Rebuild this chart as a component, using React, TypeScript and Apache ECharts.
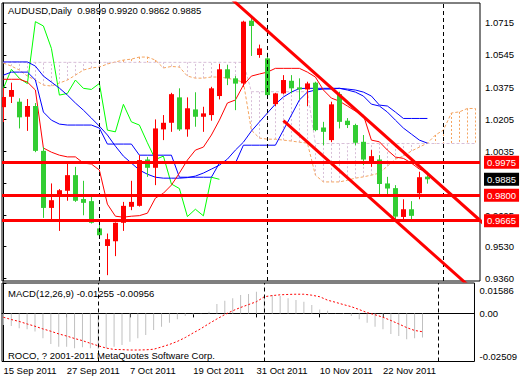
import React, { useEffect, useRef } from 'react';
import * as echarts from 'echarts';

const FONT = 'Tahoma, "Liberation Sans", Arial, sans-serif';

// OHLC, bar index 0 = 15 Sep 2011 ... 53 = 29 Nov 2011
const opens = [1.0268, 1.0323, 1.0297, 1.0217, 1.0274, 1.0036, 0.9733, 0.9795, 0.9824, 0.9907, 0.9780, 0.9769, 0.9624, 0.9531, 0.9556, 0.9654, 0.9739, 0.9744, 0.9990, 0.9946, 1.0150, 1.0185, 1.0320, 1.0150, 1.0256, 1.0217, 1.0226, 1.0327, 1.0469, 1.0421, 1.0394, 1.0727, 1.0545, 1.0527, 1.0284, 1.0341, 1.0408, 1.0373, 1.0362, 1.0398, 1.0160, 1.0093, 1.0337, 1.0196, 1.0173, 1.0084, 0.9978, 0.9990, 0.9863, 0.9838, 0.9685, 0.9726, 0.9811, 0.9899];
const highs = [1.0369, 1.0398, 1.0315, 1.0311, 1.0290, 1.0056, 0.9863, 0.9833, 0.9981, 0.9951, 0.9877, 0.9792, 0.9668, 0.9597, 0.9656, 0.9765, 0.9877, 1.0013, 1.0004, 1.0203, 1.0226, 1.0344, 1.0368, 1.0320, 1.0347, 1.0270, 1.0376, 1.0497, 1.0492, 1.0433, 1.0727, 1.0741, 1.0600, 1.0557, 1.0344, 1.0438, 1.0438, 1.0421, 1.0403, 1.0403, 1.0190, 1.0297, 1.0350, 1.0210, 1.0180, 1.0120, 1.0040, 1.0013, 0.9898, 0.9854, 0.9779, 0.9769, 0.9925, 0.9920];
const lows = [1.0189, 1.0290, 1.0155, 1.0142, 1.0029, 0.9680, 0.9668, 0.9611, 0.9771, 0.9765, 0.9694, 0.9650, 0.9571, 0.9376, 0.9477, 0.9611, 0.9721, 0.9740, 0.9898, 0.9854, 1.0093, 1.0137, 1.0142, 1.0111, 1.0164, 1.0137, 1.0196, 1.0309, 1.0385, 1.0252, 1.0376, 1.0540, 1.0530, 1.0315, 1.0274, 1.0337, 1.0341, 1.0306, 1.0274, 1.0140, 1.0066, 1.0082, 1.0155, 1.0157, 1.0066, 0.9960, 0.9951, 0.9801, 0.9801, 0.9659, 0.9664, 0.9659, 0.9779, 0.9862];
const closes = [1.0322, 1.0359, 1.0214, 1.0274, 1.0036, 0.9733, 0.9774, 0.9827, 0.9907, 0.9771, 0.9760, 0.9654, 0.9588, 0.9567, 0.9654, 0.9744, 0.9765, 0.9987, 0.9946, 1.0155, 1.0185, 1.0337, 1.0150, 1.0262, 1.0217, 1.0235, 1.0368, 1.0469, 1.0421, 1.0393, 1.0722, 1.0699, 1.0580, 1.0332, 1.0341, 1.0412, 1.0368, 1.0362, 1.0394, 1.0146, 1.0137, 1.0283, 1.0190, 1.0173, 1.0079, 0.9990, 1.0008, 0.9860, 0.9836, 0.9687, 0.9726, 0.9691, 0.9896, 0.9885];

// Ichimoku lines
const tenkan = [1.0416, 1.0416, 1.0416, 1.0401, 1.0359, 1.0051, 1.0029, 1.0013, 1.0004, 1.0004, 0.9971, 0.9966, 0.9934, 0.9753, 0.9689, 0.9684, 0.9689, 0.9692, 0.9705, 0.9785, 0.9811, 0.9854, 0.9918, 0.9987, 1.0040, 1.0056, 1.0120, 1.0199, 1.0290, 1.0306, 1.0385, 1.0433, 1.0444, 1.0454, 1.0474, 1.0474, 1.0474, 1.0474, 1.0454, 1.0428, 1.0359, 1.0316, 1.0300, 1.0274, 1.0247, 1.0226, 1.0093, 1.0084, 1.0040, 1.0003, 0.9996, 0.9971, 0.9939, 0.9923];
const kijun = [1.0438, 1.0454, 1.0454, 1.0454, 1.0412, 1.0242, 1.0199, 1.0178, 1.0173, 1.0173, 1.0173, 1.0173, 1.0157, 1.0072, 1.0072, 1.0072, 1.0072, 1.0013, 1.0013, 1.0013, 1.0013, 1.0013, 0.9896, 0.9896, 0.9896, 0.9896, 0.9896, 0.9971, 0.9971, 0.9971, 1.0066, 1.0066, 1.0066, 1.0066, 1.0066, 1.0146, 1.0226, 1.0306, 1.0348, 1.0359, 1.0364, 1.0364, 1.0368, 1.0359, 1.0348, 1.0327, 1.0284, 1.0274, 1.0242, 1.0199, 1.0157, 1.0125, 1.0093, 1.0077];
const blueLine2 = [1.0508, 1.0508, 1.0508, 1.0508, 1.0486, 1.0433, 1.0401, 1.0369, 1.0332, 1.0290, 1.0252, 1.0210, 1.0167, 1.0120, 1.0061, 1.0008, 0.9971, 0.9934, 0.9912, 0.9896, 0.9891, 0.9891, 0.9891, 0.9894, 0.9902, 0.9918, 0.9939, 0.9960, 0.9992, 1.0040, 1.0082, 1.0141, 1.0189, 1.0237, 1.0284, 1.0322, 1.0348, 1.0367, 1.0368, 1.0368, 1.0368, 1.0368, 1.0368, 1.0364, 1.0359, 1.0348, 1.0327, 1.0279, 1.0274, 1.0242, 1.0208, 1.0208, 1.0208, 1.0208];
const spanA = [1.0502, 1.0486, 1.0465, 1.0433, 1.0412, 1.0385, 1.0380, 1.0396, 1.0412, 1.0438, 1.0465, 1.0476, 1.0481, 1.0497, 1.0508, 1.0518, 1.0523, 1.0534, 1.0534, 1.0518, 1.0476, 1.0484, 1.0481, 1.0433, 1.0422, 1.0422, 1.0428, 1.0428, 1.0422, 1.0412, 1.0401, 1.0146, 1.0104, 1.0098, 1.0098, 1.0093, 1.0088, 1.0082, 1.0077, 0.9907, 0.9871, 0.9871, 0.9871, 0.9880, 0.9891, 0.9898, 0.9907, 0.9918, 0.9955, 0.9992, 1.0008, 1.0035, 1.0056, 1.0077, 1.0120, 1.0146, 1.0237, 1.0243, 1.0261, 1.0261];
const spanB = [1.0506, 1.0506, 1.0506, 1.0506, 1.0506, 1.0506, 1.0506, 1.0506, 1.0506, 1.0506, 1.0506, 1.0506, 1.0506, 1.0506, 1.0506, 1.0506, 1.0506, 1.0506, 1.0506, 1.0506, 1.0506, 1.0506, 1.0506, 1.0506, 1.0506, 1.0506, 1.0506, 1.0506, 1.0506, 1.0506, 1.0506, 1.0350, 1.0350, 1.0350, 1.0350, 1.0350, 1.0350, 1.0350, 1.0350, 1.0075, 1.0075, 1.0075, 1.0075, 1.0075, 1.0075, 1.0075, 1.0075, 1.0075, 1.0075, 1.0075, 1.0075, 1.0075, 1.0075, 1.0075, 1.0075, 1.0075, 1.0075, 1.0075, 1.0075, 1.0075];
const chikouShift = 26;

// MACD(12,26,9)
const macdMain = [-0.0061, -0.0066, -0.0078, -0.0083, -0.0095, -0.0130, -0.0160, -0.0174, -0.0174, -0.0182, -0.0177, -0.0182, -0.0187, -0.0182, -0.0174, -0.0165, -0.0148, -0.0130, -0.0113, -0.0087, -0.0069, -0.0049, -0.0031, -0.0014, -0.0007, 0.0001, 0.0009, 0.0049, 0.0066, 0.0079, 0.0096, 0.0101, 0.0113, 0.0091, 0.0096, 0.0091, 0.0079, 0.0070, 0.0061, 0.0044, 0.0021, 0.0014, 0.0001, -0.0003, -0.0014, -0.0031, -0.0049, -0.0069, -0.0083, -0.0107, -0.0118, -0.0135, -0.0130, -0.01255];
const macdSignal = [-0.0020, -0.0032, -0.0042, -0.0055, -0.0067, -0.0081, -0.0093, -0.0107, -0.0118, -0.0131, -0.0142, -0.0156, -0.0169, -0.0181, -0.0188, -0.0189, -0.0191, -0.0191, -0.0190, -0.0187, -0.0175, -0.0162, -0.0146, -0.0126, -0.0102, -0.0079, -0.0053, -0.0029, -0.0006, 0.0014, 0.0031, 0.0046, 0.0061, 0.0087, 0.0093, 0.0097, 0.0099, 0.0100, 0.0100, 0.0095, 0.0087, 0.0069, 0.0058, 0.0046, 0.0035, 0.0020, 0.0004, -0.0007, -0.0020, -0.0037, -0.0055, -0.0074, -0.0089, -0.00956];

// Axes / annotations
const dateTicks = [0, 8, 16, 24, 32, 40, 48];
const dateLabels = ['15 Sep 2011', '27 Sep 2011', '7 Oct 2011', '19 Oct 2011', '31 Oct 2011', '10 Nov 2011', '22 Nov 2011'];
const priceTicks = [1.0715, 1.0545, 1.0375, 1.0205, 1.0035, 0.9865, 0.9695, 0.953, 0.936];
// 0.9865 sits fully under the current-price box, so only its tick is drawn
const priceLabels = [1.0715, 1.0545, 1.0375, 1.0205, 1.0035, 0.9695, 0.953, 0.936];
const macdTicks = [0.01586, 0, -0.02509];
const levels = [0.9975, 0.98, 0.9665];
const lastPrice = 0.9885;
const monthSeparators = [12, 33, 55];
const upperChannel = [[28, 1.0862], [60, 0.9651]];
const lowerChannel = [[35, 1.0196], [60, 0.925]];

const headerText = 'AUDUSD,Daily  0.9899 0.9920 0.9862 0.9885';
const macdText = 'MACD(12,26,9) -0.01255 -0.00956';
const copyrightText = 'ROCO, ? 2001-2011 MetaQuotes Software Corp.';

const X_MIN = -0.175;
const X_MAX = 59.575;

const pairs = (arr: number[], offset = 0) => arr.map((v, i) => [i + offset, v]);

function buildOption() {
  const candleData = opens.map((o, i) => [i, o, highs[i], lows[i], closes[i]]);
  const cloudData = spanA.map((a, i) => [i, a, spanB[i]]);
  const chikou = closes.slice(chikouShift).map((v, i) => [i, v]);

  const labelFont = { fontSize: 9.5, fontFamily: FONT, color: '#000' };
  const boxLabel = {
    show: true, position: 'end', distance: 4,
    formatter: (p: any) => Number(p.value).toFixed(4),
    color: '#fff', padding: [2, 3, 1, 3], fontSize: 9.5, fontFamily: FONT,
  };

  return {
    animation: false,
    backgroundColor: '#fff',
    grid: [
      { left: 2, top: 3, width: 478, height: 278, show: true, borderColor: '#000', borderWidth: 1, backgroundColor: 'transparent' },
      { left: 2, top: 283, width: 478, height: 78.5, show: true, borderColor: '#000', borderWidth: 1, backgroundColor: 'transparent' },
    ],
    xAxis: [
      { type: 'value', gridIndex: 0, min: X_MIN, max: X_MAX, show: false, splitLine: { show: false } },
      {
        type: 'value', gridIndex: 1, min: X_MIN, max: X_MAX, splitLine: { show: false },
        axisLine: { show: true, lineStyle: { color: '#000' } },
        axisTick: { show: true, customValues: dateTicks, length: 4, lineStyle: { color: '#000' } },
        axisLabel: {
          show: true, customValues: dateTicks, align: 'left', margin: 4, ...labelFont,
          formatter: (v: number) => dateLabels[dateTicks.indexOf(Math.round(v))] || '',
        },
      },
    ],
    yAxis: [
      {
        type: 'value', gridIndex: 0, position: 'right', min: 0.9345, max: 1.0821,
        splitLine: { show: false },
        axisLine: { show: true, lineStyle: { color: '#000' } },
        axisTick: { show: true, customValues: priceTicks, length: 3, lineStyle: { color: '#000' } },
        axisLabel: { show: true, customValues: priceLabels, margin: 5, ...labelFont, formatter: (v: number) => v.toFixed(4) },
      },
      {
        type: 'value', gridIndex: 1, position: 'right', min: -0.02509, max: 0.01586,
        splitLine: { show: false },
        axisLine: { show: true, lineStyle: { color: '#000' } },
        axisTick: { show: true, customValues: macdTicks, length: 3, lineStyle: { color: '#000' } },
        axisLabel: {
          show: true, customValues: macdTicks, margin: 5, ...labelFont,
          formatter: (v: number) => (v > 0 ? `{t|${v.toFixed(5)}}` : v < 0 ? `{b|${v.toFixed(5)}}` : '0.00'),
          rich: {
            t: { padding: [15, 0, 0, 0], fontSize: 9.5, fontFamily: FONT, color: '#000' },
            b: { padding: [0, 0, 11, 0], fontSize: 9.5, fontFamily: FONT, color: '#000' },
          },
        },
      },
    ],
    graphic: [
      { type: 'text', left: 8, top: 5, z: 100, style: { text: headerText, fontSize: 9.5, fontFamily: FONT, fill: '#000' } },
      { type: 'text', left: 8, top: 288, z: 100, style: { text: macdText, fontSize: 9.5, fontFamily: FONT, fill: '#000' } },
      { type: 'text', left: 8, top: 350, z: 100, style: { text: copyrightText, fontSize: 9.5, fontFamily: FONT, fill: '#000' } },
    ],
    series: [
      {
        name: 'cloud', type: 'custom', xAxisIndex: 0, yAxisIndex: 0, z: 1, clip: true,
        data: cloudData, encode: { x: 0, y: [1, 2] },
        renderItem: (params: any, api: any) => {
          const k = api.value(0);
          const a = api.value(1);
          const b = api.value(2);
          const pa = api.coord([k, a]);
          const pb = api.coord([k, b]);
          const x = Math.round(pa[0]) + 0.5;
          return {
            type: 'line',
            shape: { x1: x, y1: pa[1], x2: x, y2: pb[1] },
            style: { stroke: a > b ? '#F4A460' : '#D8BFD8', lineWidth: 1, lineDash: [2, 2] },
          };
        },
      },
      {
        name: 'Senkou A', type: 'line', xAxisIndex: 0, yAxisIndex: 0, z: 2, symbol: 'none',
        data: pairs(spanA), lineStyle: { color: '#F4A460', width: 1, type: [3, 2] },
        markLine: {
          silent: true, symbol: ['none', 'none'], label: { show: false },
          lineStyle: { color: '#000', width: 1, type: [4, 3] },
          data: monthSeparators.map((v) => ({ xAxis: v })),
        },
      },
      {
        name: 'Senkou B', type: 'line', xAxisIndex: 0, yAxisIndex: 0, z: 2, symbol: 'none',
        data: pairs(spanB), lineStyle: { color: '#D8BFD8', width: 1, type: [3, 2] },
      },
      {
        name: 'Chikou', type: 'line', xAxisIndex: 0, yAxisIndex: 0, z: 3, symbol: 'none',
        data: chikou, lineStyle: { color: '#00FF00', width: 1 },
      },
      {
        name: 'Kijun', type: 'line', xAxisIndex: 0, yAxisIndex: 0, z: 3, symbol: 'none',
        data: pairs(kijun), lineStyle: { color: '#0000FF', width: 1 },
      },
      {
        name: 'Blue2', type: 'line', xAxisIndex: 0, yAxisIndex: 0, z: 3, symbol: 'none',
        data: pairs(blueLine2), lineStyle: { color: '#0000FF', width: 1 },
      },
      {
        name: 'Tenkan', type: 'line', xAxisIndex: 0, yAxisIndex: 0, z: 3, symbol: 'none',
        data: pairs(tenkan), lineStyle: { color: '#FF0000', width: 1 },
      },
      {
        name: 'candles', type: 'custom', xAxisIndex: 0, yAxisIndex: 0, z: 4, clip: true,
        data: candleData, encode: { x: 0, y: [1, 2, 3, 4] },
        renderItem: (params: any, api: any) => {
          const k = api.value(0);
          const o = api.value(1);
          const h = api.value(2);
          const l = api.value(3);
          const c = api.value(4);
          const pO = api.coord([k, o]);
          const pC = api.coord([k, c]);
          const pH = api.coord([k, h]);
          const pL = api.coord([k, l]);
          const color = c >= o ? '#FF0000' : '#32CD32';
          const x = Math.round(pO[0]);
          const top = Math.min(pO[1], pC[1]);
          const bot = Math.max(pO[1], pC[1]);
          return {
            type: 'group',
            children: [
              { type: 'line', shape: { x1: x + 0.5, y1: pH[1], x2: x + 0.5, y2: pL[1] }, style: { stroke: color, lineWidth: 1 } },
              { type: 'rect', shape: { x: x - 2, y: top, width: 5, height: Math.max(1, bot - top) }, style: { fill: color } },
            ],
          };
        },
      },
      {
        name: 'channel upper', type: 'line', xAxisIndex: 0, yAxisIndex: 0, z: 6, symbol: 'none',
        data: upperChannel, lineStyle: { color: '#FF0000', width: 3 },
        markLine: {
          silent: true, symbol: ['none', 'none'], precision: 4,
          lineStyle: { color: '#FF0000', width: 3, type: 'solid' },
          label: { ...boxLabel, backgroundColor: '#FF0000' },
          data: levels.map((v) => ({ yAxis: v })),
        },
      },
      {
        name: 'bid', type: 'line', xAxisIndex: 0, yAxisIndex: 0, z: 7, symbol: 'none', data: [],
        markLine: {
          silent: true, symbol: ['none', 'none'], precision: 4,
          lineStyle: { color: 'rgba(0,0,0,0)', width: 1, type: 'solid' },
          label: { ...boxLabel, backgroundColor: '#000' },
          data: [{ yAxis: lastPrice }],
        },
      },
      {
        name: 'channel lower', type: 'line', xAxisIndex: 0, yAxisIndex: 0, z: 6, symbol: 'none',
        data: lowerChannel, lineStyle: { color: '#FF0000', width: 3 },
      },
      {
        name: 'MACD', type: 'bar', xAxisIndex: 1, yAxisIndex: 1, z: 2, barWidth: 1,
        data: pairs(macdMain), itemStyle: { color: '#C0C0C0' },
        markLine: {
          silent: true, symbol: ['none', 'none'], label: { show: false },
          lineStyle: { color: '#000', width: 1, type: [4, 3] },
          data: monthSeparators.map((v) => ({ xAxis: v })),
        },
      },
      {
        name: 'Signal', type: 'line', xAxisIndex: 1, yAxisIndex: 1, z: 3, symbol: 'none',
        data: pairs(macdSignal), lineStyle: { color: '#FF0000', width: 1, type: [2, 2] },
      },
    ],
  };
}

export default function App() {
  const ref = useRef<HTMLDivElement>(null);
  useEffect(() => {
    if (!ref.current) return;
    const chart = echarts.init(ref.current, null, { renderer: 'svg' });
    chart.setOption(buildOption() as any);
    return () => chart.dispose();
  }, []);
  return (
    <div
      ref={ref}
      style={{ position: 'fixed', left: 0, top: 0, width: 520, height: 380, background: '#fff' }}
    />
  );
}
